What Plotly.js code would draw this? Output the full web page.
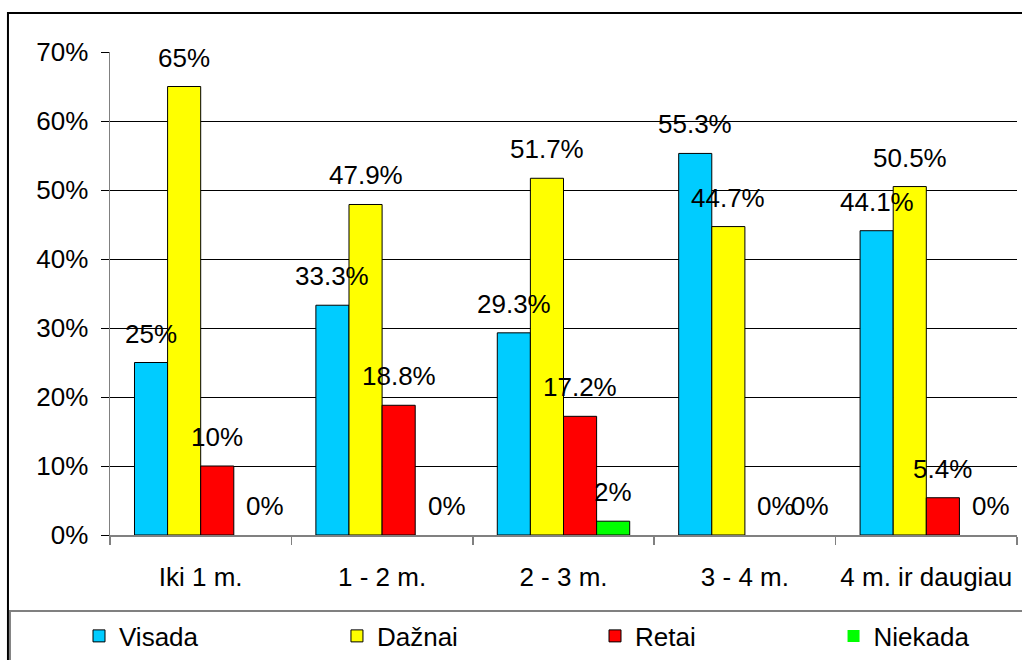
<!DOCTYPE html>
<html>
<head>
<meta charset="utf-8">
<script src="https://cdn.plot.ly/plotly-3.0.1.min.js"></script>
<style>
  html, body { margin: 0; padding: 0; background: #fff; }
  #chart { width: 1022px; height: 660px; }
</style>
</head>
<body>
<div id="chart"></div>
<script>
// Age groups along the x axis
const categories = ['Iki 1 m.', '1 - 2 m.', '2 - 3 m.', '3 - 4 m.', '4 m. ir daugiau'];

// Share of answers (%) per group
const visada  = [25, 33.3, 29.3, 55.3, 44.1];
const daznai  = [65, 47.9, 51.7, 44.7, 50.5];
const retai   = [10, 18.8, 17.2, 0, 5.4];
const niekada = [0, 0, 2, 0, 0];

const seriesNames = ['Visada', 'Dažnai', 'Retai', 'Niekada'];
const seriesColors = ['#00CCFF', '#FFFF00', '#FF0000', '#00FF00'];
const seriesValues = [visada, daznai, retai, niekada];

const yTickVals = [0, 10, 20, 30, 40, 50, 60, 70];
const yTickText = ['0%', '10%', '20%', '30%', '40%', '50%', '60%', '70%'];

const FONT = 'Arial, "Liberation Sans", sans-serif';
const FS = 26;

// plot geometry
const W = 1022, H = 660;
const M = { l: 110, r: 5, t: 52, b: 125 };
const BARGAP = 0.27;
const plotW = W - M.l - M.r;
const barPx = plotW / categories.length * (1 - BARGAP) / seriesValues.length;

// one legend per series, spread along the bottom strip (container coordinates)
const legendIds = ['legend', 'legend2', 'legend3', 'legend4'];
const legendX = [0.0773, 0.3297, 0.5822, 0.8156];

const traces = seriesValues.map((vals, i) => ({
  type: 'bar',
  name: seriesNames[i],
  x: categories,
  y: vals,
  legend: legendIds[i],
  marker: {
    color: seriesColors[i],
    // empty bars get no outline so the axis line stays clean
    line: { color: '#000', width: vals.map(v => (v === 0 ? 0 : 1)) }
  },
  hoverinfo: 'x+y+name'
}));

// value labels above each bar
const annotations = [];
seriesValues.forEach((vals, i) => {
  vals.forEach((v, j) => {
    annotations.push({
      x: categories[j],
      y: v,
      xref: 'x',
      yref: 'y',
      text: v + '%',
      showarrow: false,
      xanchor: 'center',
      yanchor: 'bottom',
      xshift: (i - (seriesValues.length - 1) / 2) * barPx + (v === 0 ? 15 : 0),
      yshift: 12,
      font: { family: FONT, size: FS, color: '#000' }
    });
  });
});

const layout = {
  width: W,
  height: H,
  margin: M,
  paper_bgcolor: '#fff',
  plot_bgcolor: '#fff',
  font: { family: FONT, size: FS, color: '#000' },
  barmode: 'group',
  bargap: BARGAP,
  bargroupgap: 0,
  showlegend: true,
  xaxis: {
    type: 'category',
    showgrid: false,
    showline: true,
    linecolor: '#808080',
    linewidth: 1.5,
    ticks: 'outside',
    tickson: 'boundaries',
    ticklen: 8,
    tickcolor: '#808080',
    tickwidth: 1.5,
    tickangle: 0,
    ticklabelstandoff: 18,
    tickfont: { family: FONT, size: FS, color: '#000' },
    zeroline: false
  },
  yaxis: {
    range: [0, 70],
    tickvals: yTickVals,
    ticktext: yTickText,
    showgrid: true,
    gridcolor: '#000',
    gridwidth: 1,
    showline: true,
    linecolor: '#808080',
    linewidth: 1.5,
    ticks: 'outside',
    ticklen: 8,
    tickcolor: '#000',
    tickwidth: 1,
    ticklabelstandoff: 7,
    tickfont: { family: FONT, size: FS, color: '#000' },
    zeroline: false
  },
  annotations: annotations,
  shapes: [
    // outer chart frame
    { type: 'rect', xref: 'paper', yref: 'paper', x0: -0.1125, x1: 1.2, y0: -0.5, y1: 1.0807,
      line: { color: '#000', width: 2 }, fillcolor: 'rgba(0,0,0,0)', layer: 'below' },
    // legend frame
    { type: 'rect', xref: 'paper', yref: 'paper', x0: -0.1103, x1: 1.2, y0: -0.5, y1: -0.1573,
      line: { color: '#808080', width: 2 }, fillcolor: 'rgba(0,0,0,0)', layer: 'below' }
  ]
};

legendIds.forEach((id, i) => {
  layout[id] = {
    orientation: 'h',
    xref: 'container',
    yref: 'container',
    x: legendX[i],
    xanchor: 'left',
    y: 0.0364,
    yanchor: 'middle',
    font: { family: FONT, size: FS, color: '#000' },
    bgcolor: 'rgba(0,0,0,0)'
  };
});

Plotly.newPlot('chart', traces, layout, { displayModeBar: false, staticPlot: true });
</script>
</body>
</html>
